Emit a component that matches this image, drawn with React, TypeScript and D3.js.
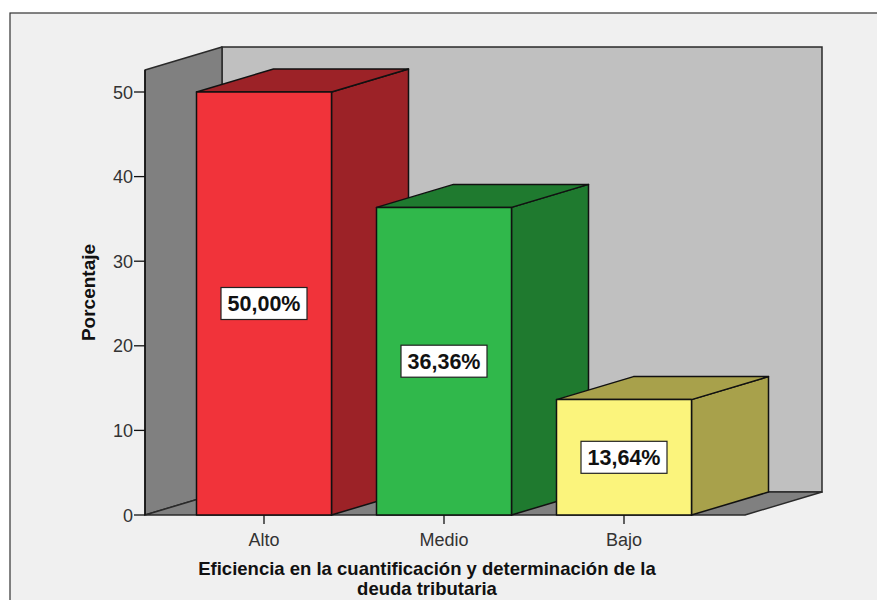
import React from "react";
import * as d3 from "d3";

const categories = ["Alto", "Medio", "Bajo"];
const percentValues = [50.0, 36.36, 13.64];
const valueLabels = ["50,00%", "36,36%", "13,64%"];
const yTicks = [0, 10, 20, 30, 40, 50];
const frontColors = ["#f1333a", "#30b84b", "#fbf47c"];
const sideColors = ["#9c2227", "#1f7a2f", "#a8a14b"];

const W = 877;
const H = 600;
const DX = 77;
const DY = -23;
const WALL_TOP = 52.6;

export default function App() {
  const y = d3.scaleLinear().domain([0, 50]).range([515, 92]);
  const x = d3
    .scaleBand<string>()
    .domain(categories)
    .range([174, 714])
    .paddingInner(0.25)
    .paddingOuter(0.125);

  const floorLeft = 145;
  const floorRight = 745;
  const y0 = y(0);
  const yTop = y(WALL_TOP);

  const pts = (arr: [number, number][]) => arr.map((p) => p.join(",")).join(" ");
  const font = "'Liberation Sans', Arial, sans-serif";
  const stroke = "#2a2a2a";

  return (
    <svg width={W} height={H} style={{ position: "absolute", left: 0, top: 0 }}>
      <rect x={0} y={0} width={W} height={H} fill="#ffffff" />
      <rect x={10} y={13} width={W + 20} height={H + 20} fill="#f0f0f0" stroke="#333" strokeWidth={1.2} />

      {/* back wall */}
      <rect
        x={floorLeft + DX}
        y={yTop + DY}
        width={floorRight - floorLeft}
        height={y0 - yTop}
        fill="#c0c0c0"
        stroke={stroke}
        strokeWidth={1.5}
      />
      {/* left wall */}
      <polygon
        points={pts([
          [floorLeft, yTop],
          [floorLeft + DX, yTop + DY],
          [floorLeft + DX, y0 + DY],
          [floorLeft, y0],
        ])}
        fill="#808080"
        stroke={stroke}
        strokeWidth={1.5}
        strokeLinejoin="round"
      />
      {/* floor */}
      <polygon
        points={pts([
          [floorLeft, y0],
          [floorRight, y0],
          [floorRight + DX, y0 + DY],
          [floorLeft + DX, y0 + DY],
        ])}
        fill="#808080"
        stroke={stroke}
        strokeWidth={1.5}
        strokeLinejoin="round"
      />

      {/* bars */}
      {categories.map((c, i) => {
        const x0 = x(c)!;
        const x1 = x0 + x.bandwidth();
        const top = y(percentValues[i]);
        return (
          <g key={c} stroke="#111" strokeWidth={1.5} strokeLinejoin="round">
            <polygon
              points={pts([
                [x1, top],
                [x1 + DX, top + DY],
                [x1 + DX, y0 + DY],
                [x1, y0],
              ])}
              fill={sideColors[i]}
            />
            <polygon
              points={pts([
                [x0, top],
                [x0 + DX, top + DY],
                [x1 + DX, top + DY],
                [x1, top],
              ])}
              fill={sideColors[i]}
            />
            <rect x={x0} y={top} width={x1 - x0} height={y0 - top} fill={frontColors[i]} />
          </g>
        );
      })}

      {/* value labels */}
      {categories.map((c, i) => {
        const cx = x(c)! + x.bandwidth() / 2;
        const cy = y(percentValues[i] / 2);
        return (
          <g key={c + "-lbl"}>
            <rect x={cx - 43} y={cy - 16} width={86} height={32} fill="#ffffff" stroke="#222" strokeWidth={1.2} />
            <text
              x={cx}
              y={cy + 7.5}
              textAnchor="middle"
              fontFamily={font}
              fontWeight="bold"
              fontSize={21.5}
              fill="#111"
            >
              {valueLabels[i]}
            </text>
          </g>
        );
      })}

      {/* y axis */}
      <line x1={floorLeft} x2={floorLeft} y1={yTop} y2={y0} stroke="#111" strokeWidth={1.5} />
      {yTicks.map((t) => (
        <g key={t}>
          <line x1={floorLeft - 11} x2={floorLeft} y1={y(t)} y2={y(t)} stroke="#111" strokeWidth={1.3} />
          <text x={floorLeft - 12} y={y(t) + 6.5} textAnchor="end" fontFamily={font} fontSize={18} fill="#333">
            {t}
          </text>
        </g>
      ))}
      <text
        transform={`translate(95,${(y(0) + y(WALL_TOP)) / 2}) rotate(-90)`}
        textAnchor="middle"
        fontFamily={font}
        fontWeight="bold"
        fontSize={19}
        fill="#111"
      >
        Porcentaje
      </text>

      {/* x axis */}
      {categories.map((c) => {
        const cx = x(c)! + x.bandwidth() / 2;
        return (
          <g key={c + "-tick"}>
            <line x1={cx} x2={cx} y1={y0} y2={y0 + 9} stroke="#111" strokeWidth={1.3} />
            <text x={cx} y={546} textAnchor="middle" fontFamily={font} fontSize={18} fill="#333">
              {c}
            </text>
          </g>
        );
      })}
      <text x={427} y={575} textAnchor="middle" fontFamily={font} fontWeight="bold" fontSize={18.5} fill="#111">
        Eficiencia en la cuantificación y determinación de la
      </text>
      <text x={427} y={595} textAnchor="middle" fontFamily={font} fontWeight="bold" fontSize={18.5} fill="#111">
        deuda tributaria
      </text>
    </svg>
  );
}
